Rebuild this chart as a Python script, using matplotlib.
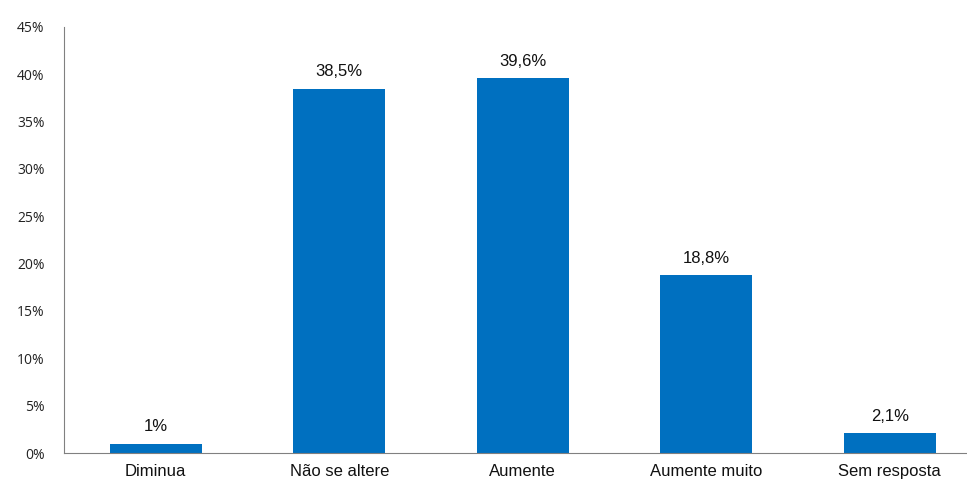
import matplotlib
matplotlib.use("Agg")
import matplotlib.pyplot as plt
from matplotlib.ticker import FuncFormatter

categories = ["Diminua", "Não se altere", "Aumente", "Aumente muito", "Sem resposta"]
values = [1.0, 38.5, 39.6, 18.8, 2.1]
value_labels = ["1%", "38,5%", "39,6%", "18,8%", "2,1%"]
yticks = [0, 5, 10, 15, 20, 25, 30, 35, 40, 45]

W, H = 967, 490
fig = plt.figure(figsize=(W / 100, H / 100), dpi=100)
left, right, bottom, top = 64, 967, 453, 27
ax = fig.add_axes([left / W, 1 - bottom / H, (right - left) / W, (bottom - top) / H])

x = list(range(len(categories)))
ax.bar(x, values, width=0.5, color="#0070C0")
spacing = 183.5
ax.set_xlim(-0.5, -0.5 + (right - left) / spacing)
ax.set_ylim(0, 45)

for xi, v, lab in zip(x, values, value_labels):
    ax.text(xi, v + 1.0, lab, ha="center", va="bottom", fontsize=12,
            family="Liberation Sans", color="#111111")

ax.set_xticks(x)
ax.set_xticklabels(categories, fontsize=12, family="Liberation Sans", color="#111111")
ax.set_yticks(yticks)
ax.yaxis.set_major_formatter(FuncFormatter(lambda v, p: f"{int(v)}%"))
for t in ax.get_yticklabels():
    t.set_fontsize(10)
    t.set_family("Open Sans")
    t.set_color("#222222")

ax.tick_params(axis="both", length=0)
ax.tick_params(axis="x", pad=8)
ax.tick_params(axis="y", pad=14)
for s in ["top", "right"]:
    ax.spines[s].set_visible(False)
ax.spines["left"].set_color("#808080")
ax.spines["bottom"].set_color("#808080")

fig.savefig("out.png", dpi=100)
